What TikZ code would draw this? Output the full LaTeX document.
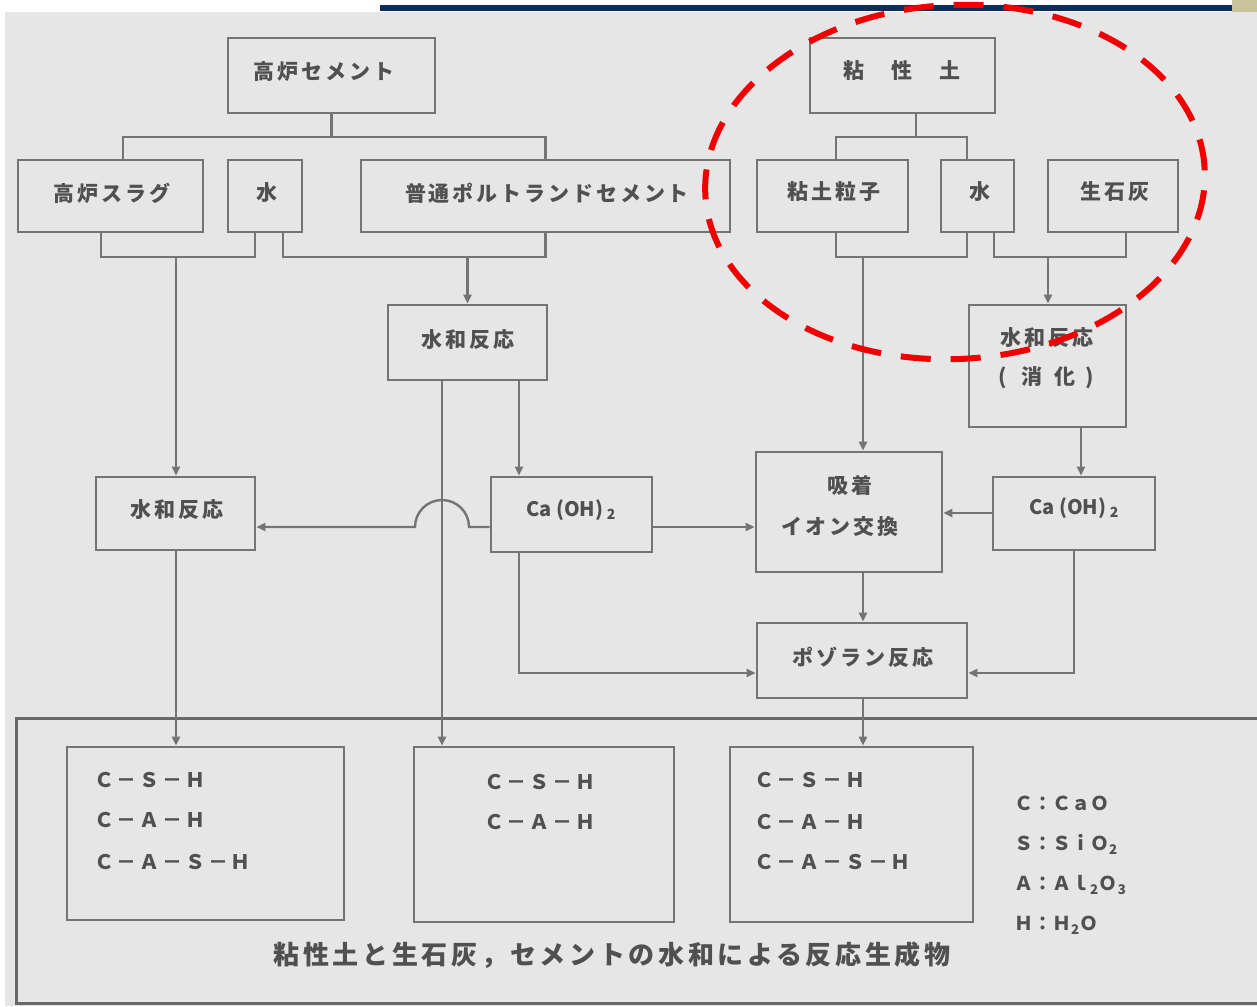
\documentclass[tikz,border=0pt]{standalone}
\usepackage{fontspec}
\newfontfamily\jp[LetterSpace=14]{Noto Sans CJK JP}
\newfontfamily\jpn{Noto Sans CJK JP}
\usetikzlibrary{arrows.meta}
\definecolor{bggray}{HTML}{E6E6E6}
\definecolor{ln}{HTML}{747474}
\definecolor{txt}{HTML}{505050}
\definecolor{navy}{HTML}{0B2D5C}
\definecolor{khaki}{HTML}{C9C39C}
\definecolor{dashred}{HTML}{F00000}
\begin{document}
\begin{tikzpicture}[x=1pt,y=-1pt,
 box/.style={draw=ln, line width=2.6pt, rectangle, inner sep=0pt},
 lbl/.style={text=txt, inner sep=0pt, font=\jp\bfseries\fontsize{21}{25}\selectfont},
 chem/.style={text=txt, inner sep=0pt, anchor=west, font=\jp\bfseries\fontsize{20}{24}\selectfont},
 leg/.style={text=txt, inner sep=0pt, anchor=west, font=\jpn\bfseries\fontsize{19}{23}\selectfont},
 captxt/.style={text=txt, inner sep=0pt, font=\jp\bfseries\fontsize{26}{30}\selectfont},
 conn/.style={draw=ln, line width=2.4pt},
 arr/.style={conn, -{Triangle[length=9pt,width=8pt]}},
 outerframe/.style={draw=ln!90!black, line width=3pt},
]
\useasboundingbox (0,0) rectangle (1257,1006);
\fill[white] (0,0) rectangle (1257,1006);
\fill[bggray] (5,12) rectangle (1257,1006);
\fill[navy] (380,5) rectangle (1232,11);
\fill[khaki] (1232,0) rectangle (1257,12);

% helper coordinates
\coordinate (yTop) at (0,137);
\coordinate (yBr) at (0,257);
\coordinate (yHop) at (0,527);
\coordinate (yR) at (0,513);
\coordinate (yPoz) at (0,673);
\coordinate (xs1) at (123,0);
\coordinate (xs2) at (101,0);
\coordinate (xw1) at (255,0);
\coordinate (xw2) at (283,0);
\coordinate (xd1) at (176,0);
\coordinate (xd2) at (467.5,0);
\coordinate (xm1) at (442,0);
\coordinate (xm2) at (519,0);
\coordinate (hopR) at (469,527);
\coordinate (xn) at (916,0);
\coordinate (xr1) at (836,0);
\coordinate (xr2) at (967,0);
\coordinate (xr3) at (863,0);
\coordinate (xr4) at (994,0);
\coordinate (xr5) at (1126,0);
\coordinate (xr6) at (1048,0);
\coordinate (xr7) at (1081,0);
\coordinate (xr8) at (1074,0);

% boxes
\node[box, minimum width=207pt, minimum height=75pt] (kouro) at (331.5,75.5) {};
\node[box, minimum width=185pt, minimum height=72pt] (slag) at (110.5,196) {};
\node[box, minimum width=74pt, minimum height=72pt] (mizuL) at (265,196) {};
\node[box, minimum width=369pt, minimum height=72pt] (opc) at (545.5,196) {};
\node[box, minimum width=159pt, minimum height=75pt] (suiwaM) at (467.5,342.5) {};
\node[box, minimum width=159pt, minimum height=73pt] (suiwaL) at (175.5,513.5) {};
\node[box, minimum width=161pt, minimum height=75pt] (caL) at (571.5,514.5) {};
\node[box, minimum width=185pt, minimum height=75pt] (nendo) at (902.5,75.5) {};
\node[box, minimum width=151pt, minimum height=72pt] (ryushi) at (832.5,196) {};
\node[box, minimum width=73pt, minimum height=72pt] (mizuR) at (977.5,196) {};
\node[box, minimum width=130pt, minimum height=72pt] (seki) at (1113,196) {};
\node[box, minimum width=157pt, minimum height=122pt] (shoka) at (1047.5,366) {};
\node[box, minimum width=186pt, minimum height=120pt] (kyu) at (849,512) {};
\node[box, minimum width=162pt, minimum height=73pt] (caR) at (1074,513.5) {};
\node[box, minimum width=210pt, minimum height=75pt] (pozo) at (862,660.5) {};
\node[box, minimum width=277pt, minimum height=173pt] (prod1) at (205.5,833.5) {};
\node[box, minimum width=260pt, minimum height=175pt] (prod2) at (544,834.5) {};
\node[box, minimum width=243pt, minimum height=175pt] (prod3) at (851.5,834.5) {};

% labels
\node[lbl] (tKouro) at (324,72) {高炉セメント};
\node[lbl] (tSlag) at (112,193) {高炉スラグ};
\node[lbl] (tMizuL) at (267,193) {水};
\node[lbl] (tOpc) at (547,193) {普通ポルトランドセメント};
\node[lbl] (tSuiwaM) at (468,340) {水和反応};
\node[lbl] (tSuiwaL) at (177,510) {水和反応};
\node[lbl] (tCaL) at (571,510) {\jpn\bfseries\fontsize{20}{24}\selectfont Ca (OH)\,\textsubscript{2}};
\node[lbl] (tNendo) at (902,71) {粘　性　土};
\node[lbl] (tRyushi) at (834,192) {粘土粒子};
\node[lbl] (tMizuR) at (980,192) {水};
\node[lbl] (tSeki) at (1115,192) {生石灰};
\node[lbl] (tShoka1) at (1047,338) {水和反応};
\node[lbl] (tShoka2) at (1046,378) {(\hspace{14pt}消\hspace{12pt}化\hspace{10pt})};
\node[lbl] (tKyu1) at (850,485) {吸着};
\node[lbl] (tKyu2) at (840,527) {イオン交換};
\node[lbl] (tCaR) at (1074,508) {\jpn\bfseries\fontsize{20}{24}\selectfont Ca (OH)\,\textsubscript{2}};
\node[lbl] (tPozo) at (863,657) {ポゾラン反応};

\node[chem] (p1a) at (94,780) {Ｃ－Ｓ－Ｈ};
\node[chem] (p1b) at (94,820) {Ｃ－Ａ－Ｈ};
\node[chem] (p1c) at (94,862) {Ｃ－Ａ－Ｓ－Ｈ};
\node[chem] (p2a) at (484,782) {Ｃ－Ｓ－Ｈ};
\node[chem] (p2b) at (484,822) {Ｃ－Ａ－Ｈ};
\node[chem] (p3a) at (754,780) {Ｃ－Ｓ－Ｈ};
\node[chem] (p3b) at (754,822) {Ｃ－Ａ－Ｈ};
\node[chem] (p3c) at (754,862) {Ｃ－Ａ－Ｓ－Ｈ};

\node[leg] (l1) at (1014,803) {Ｃ：ＣａＯ};
\node[leg] (l2) at (1014,844) {Ｓ：ＳｉＯ\textsubscript{2}};
\node[leg] (l3) at (1014,885) {Ａ：Ａｌ\textsubscript{2}Ｏ\textsubscript{3}};
\node[leg] (l4) at (1014,925) {Ｈ：Ｈ\textsubscript{2}Ｏ};

\node[captxt] (caption) at (612,955) {粘性土と生石灰，セメントの水和による反応生成物};

% outer frame
\draw[outerframe] (1257,718) -- (16,718) -- (16,1003) -- (1257,1003);

% connectors left
\draw[conn] (kouro.south) -- (kouro.south |- yTop);
\draw[conn] (slag.north -| xs1) -- (xs1 |- yTop) -| (opc.north);
\draw[conn] (slag.south -| xs2) -- (xs2 |- yBr) -| (mizuL.south -| xw1);
\draw[arr] (xd1 |- yBr) -- (suiwaL.north -| xd1);
\draw[conn] (mizuL.south -| xw2) -- (xw2 |- yBr) -| (opc.south);
\draw[arr] (xd2 |- yBr) -- (suiwaM.north);
\draw[arr] (suiwaM.south -| xm1) -- (prod2.north -| xm1);
\draw[arr] (suiwaM.south -| xm2) -- (caL.north -| xm2);
\draw[arr] (suiwaL.south -| xd1) -- (prod1.north -| xd1);
\draw[arr] (caL.west |- yHop) -- (hopR) arc[start angle=0, end angle=180, radius=27pt] -- (suiwaL.east |- yHop);
\draw[arr] (caL.east |- yHop) -- (kyu.west |- yHop);
\draw[arr] (caL.south -| xm2) -- (xm2 |- yPoz) -- (pozo.west |- yPoz);

% connectors right
\draw[conn] (nendo.south -| xn) -- (xn |- yTop);
\draw[conn] (ryushi.north -| xr1) -- (xr1 |- yTop) -| (mizuR.north -| xr2);
\draw[conn] (ryushi.south -| xr1) -- (xr1 |- yBr) -| (mizuR.south -| xr2);
\draw[arr] (xr3 |- yBr) -- (kyu.north -| xr3);
\draw[conn] (mizuR.south -| xr4) -- (xr4 |- yBr) -| (seki.south -| xr5);
\draw[arr] (xr6 |- yBr) -- (shoka.north -| xr6);
\draw[arr] (shoka.south -| xr7) -- (caR.north -| xr7);
\draw[arr] (caR.west |- yR) -- (kyu.east |- yR);
\draw[arr] (kyu.south -| xr3) -- (pozo.north -| xr3);
\draw[arr] (caR.south -| xr8) -- (xr8 |- yPoz) -- (pozo.east |- yPoz);
\draw[arr] (pozo.south -| xr3) -- (prod3.north -| xr3);

% red dashed ellipse
\draw[dashred, line width=6pt, dash pattern=on 30pt off 20pt, rotate around={3:(955,182)}] (955,182) ellipse [x radius=250pt, y radius=177pt];
\end{tikzpicture}
\end{document}
